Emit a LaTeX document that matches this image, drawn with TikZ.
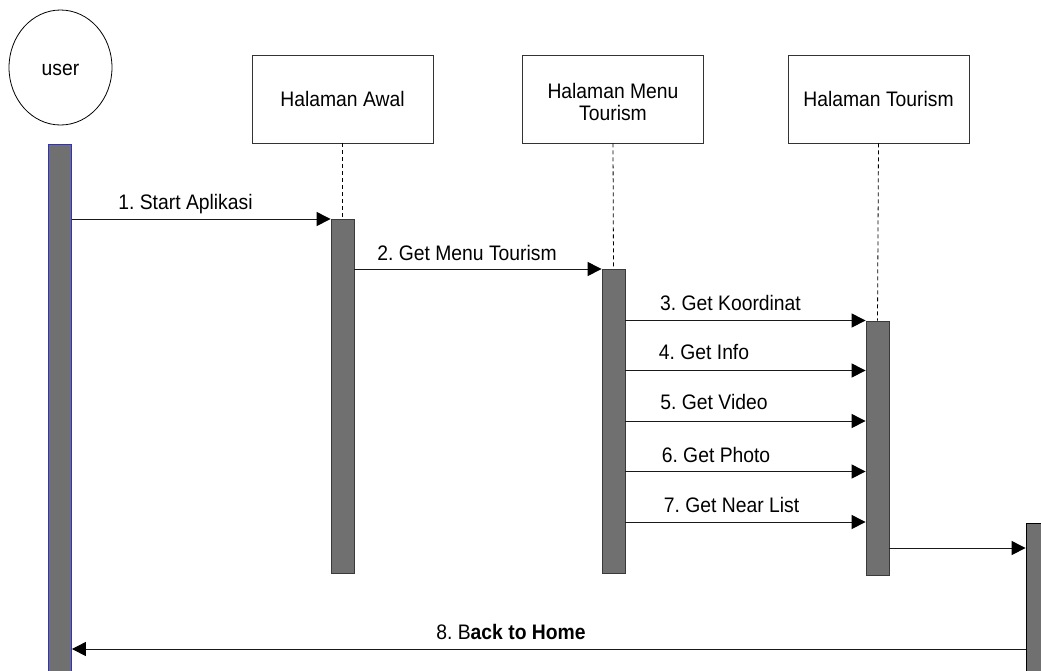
\documentclass[tikz,border=0pt]{standalone}
\usepackage{fontspec}
\setmainfont{Liberation Sans}
\usetikzlibrary{arrows.meta,shapes.geometric}
\definecolor{barfill}{HTML}{707070}
\definecolor{baredge}{HTML}{3A3A3A}
\definecolor{useredge}{HTML}{3030D0}
% slightly narrowed text, as in the diagram's labels
\newcommand\nrw[1]{\scalebox{0.92}[1]{#1}}
\begin{document}
\frenchspacing
\begin{tikzpicture}[x=1pt,y=-1pt,
  every node/.style={font=\fontsize{21}{22}\selectfont, inner sep=0pt},
  every label/.style={font=\fontsize{21}{22}\selectfont, inner sep=0pt, align=center},
  objbox/.style={draw=black!80, line width=0.9pt, rectangle, minimum width=181pt, minimum height=88pt, align=center},
  actbar/.style={draw=baredge, line width=0.8pt, fill=barfill, minimum width=23pt, anchor=north},
  life/.style={draw=black, line width=0.8pt, dash pattern=on 4pt off 3pt},
  msg/.style={draw=black!90, line width=1pt, -{Triangle[length=14pt,width=14pt,color=black]}},
  lbl/.style={anchor=base}]
\useasboundingbox (0,0) rectangle (1041,670);

% actor
\node[draw=black, line width=0.8pt, ellipse, minimum width=103pt, minimum height=115pt,
      label={[yshift=-2pt]center:\nrw{user}}] (user) at (60.5,67.5) {};

% object boxes
\node[objbox] (awal) at (342.5,99) {\nrw{Halaman Awal}};
\node[objbox, label={[yshift=-3pt]center:\nrw{Halaman Menu}\\\nrw{Tourism}}] (menu) at (613,99) {};
\node[objbox] (tour) at (878.5,99) {\nrw{Halaman Tourism}};

% activation bars
\node[actbar, draw=useredge, minimum height=540pt] (ubar) at (60,144) {};
\node[actbar, minimum height=354pt] (abar) at (342.5,219) {};
\node[actbar, minimum height=304pt] (mbar) at (613.5,269) {};
\node[actbar, minimum height=254pt] (tbar) at (877.5,320.5) {};
\node[actbar, draw=black, minimum height=160pt, minimum width=30pt] (rbar) at (1041,522.5) {};

% lifelines
\draw[life] (awal.south) -- (abar.north);
\draw[life] (menu.south) -- (mbar.north);
\draw[life] (tour.south) -- (tbar.north);

% message rows
\coordinate (r4) at (0,370.5);
\coordinate (r5) at (0,421);
\coordinate (r6) at (0,471.5);
\coordinate (r7) at (0,522);
\coordinate (r9) at (0,548);
\coordinate (r8) at (0,649);

\draw[msg] (ubar.east |- abar.north) -- (abar.north west);
\draw[msg] (abar.east |- mbar.north) -- (mbar.north west);
\draw[msg] (mbar.east |- tbar.north) -- (tbar.north west);
\draw[msg] (mbar.east |- r4) -- (tbar.west |- r4);
\draw[msg] (mbar.east |- r5) -- (tbar.west |- r5);
\draw[msg] (mbar.east |- r6) -- (tbar.west |- r6);
\draw[msg] (mbar.east |- r7) -- (tbar.west |- r7);
\draw[msg] (tbar.east |- r9) -- (rbar.west |- r9);
\draw[msg] (rbar.west |- r8) -- (ubar.east |- r8);

% message labels
\node[lbl] at (185.5,209) {\nrw{1. Start Aplikasi}};
\node[lbl] at (467,260) {\nrw{2. Get Menu Tourism}};
\node[lbl] at (730.5,310.5) {\nrw{3. Get Koordinat}};
\node[lbl] at (704,359) {\nrw{4. Get Info}};
\node[lbl] at (714,409) {\nrw{5. Get Video}};
\node[lbl] at (716,462) {\nrw{6. Get Photo}};
\node[lbl] at (731.5,512) {\nrw{7. Get Near List}};
\node[lbl] at (511,639) {\nrw{8. B\textbf{ack to Home}}};
\end{tikzpicture}
\end{document}
